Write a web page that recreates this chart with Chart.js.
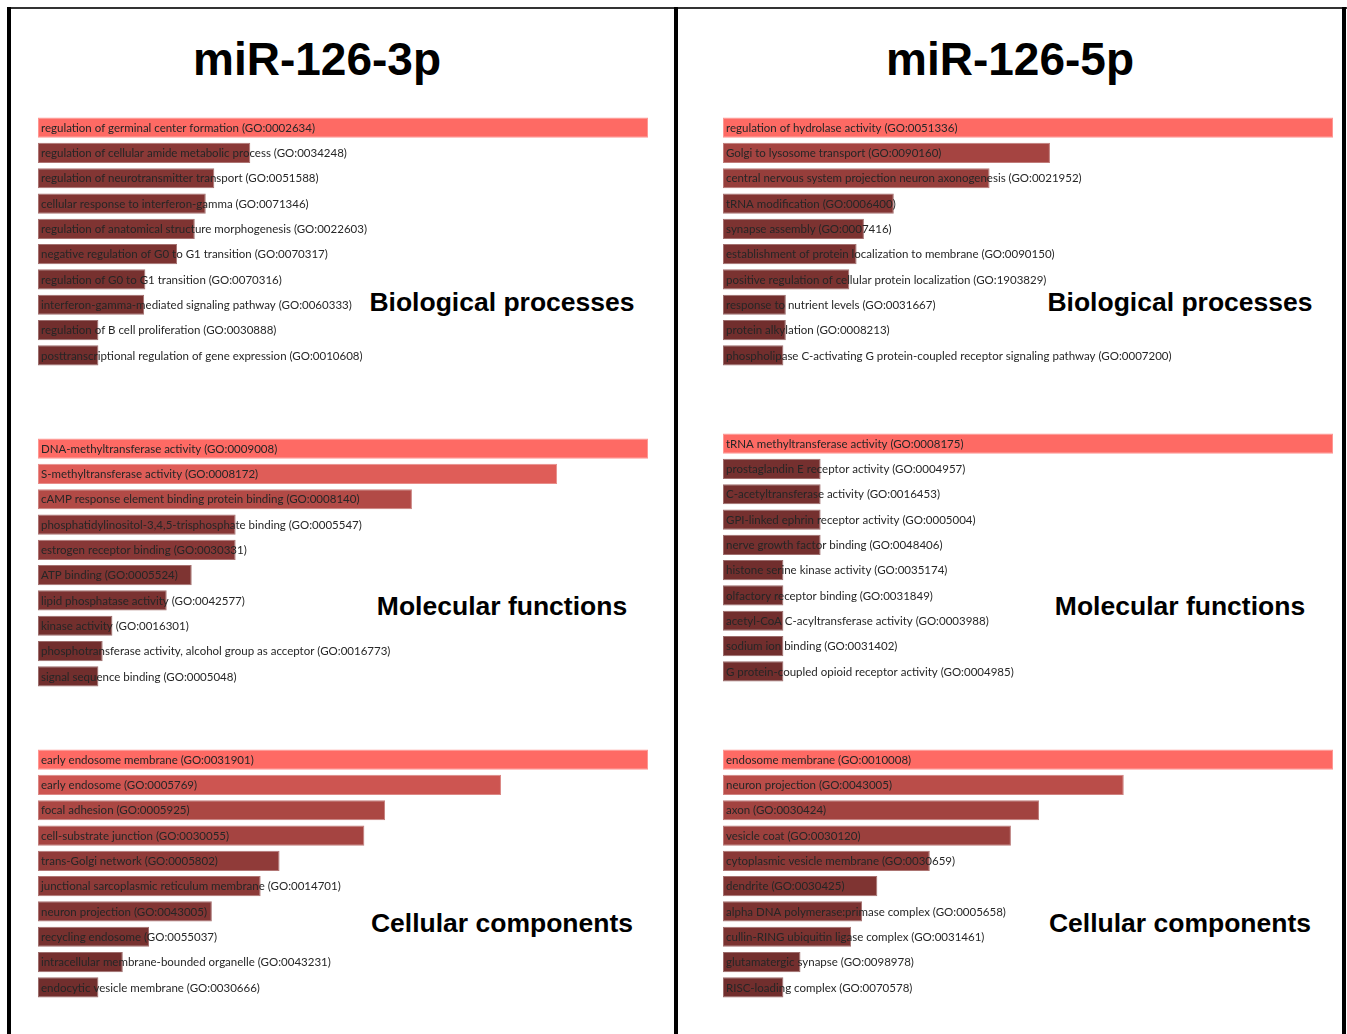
<!DOCTYPE html>
<html>
<head>
<meta charset="utf-8">
<title>miR-126 GO enrichment</title>
<script src="https://cdn.jsdelivr.net/npm/chart.js@4.4.1/dist/chart.umd.min.js"></script>
<style>
  html, body { margin: 0; padding: 0; background: #fff; }
  body { width: 1347px; height: 1034px; position: relative; overflow: hidden;
         font-family: "Liberation Sans", Arial, Helvetica, sans-serif; }
  .rule { position: absolute; background: #000; }
  .head { position: absolute; width: 500px; text-align: center; font-weight: bold;
          font-size: 46px; line-height: 46px; color: #000; white-space: nowrap; }
  .group { position: absolute; width: 340px; text-align: center; font-weight: bold;
           font-size: 26.5px; line-height: 26px; color: #000; white-space: nowrap; }
  .plot { position: absolute; width: 610px; height: 253px; }
</style>
</head>
<body>
<!-- panel frame -->
<div class="rule" style="left:7px; top:7px; width:1340px; height:2px; background:#333;"></div>
<div class="rule" style="left:7px; top:7px; width:4px; height:1027px;"></div>
<div class="rule" style="left:674px; top:7px; width:4px; height:1027px;"></div>
<div class="rule" style="left:1342px; top:7px; width:4px; height:1027px;"></div>

<div class="head" style="left:67px; top:36px;">miR-126-3p</div>
<div class="head" style="left:760px; top:36px;">miR-126-5p</div>

<div class="group" style="left:332px; top:289px;">Biological processes</div>
<div class="group" style="left:332px; top:593px;">Molecular functions</div>
<div class="group" style="left:332px; top:910px;">Cellular components</div>
<div class="group" style="left:1010px; top:289px;">Biological processes</div>
<div class="group" style="left:1010px; top:593px;">Molecular functions</div>
<div class="group" style="left:1010px; top:910px;">Cellular components</div>

<canvas id="bp3p" class="plot" width="610" height="253" style="left:38px; top:115px;"></canvas>
<canvas id="mf3p" class="plot" width="610" height="253" style="left:38px; top:436px;"></canvas>
<canvas id="cc3p" class="plot" width="610" height="253" style="left:38px; top:747px;"></canvas>
<canvas id="bp5p" class="plot" width="610" height="253" style="left:723px; top:115px;"></canvas>
<canvas id="mf5p" class="plot" width="610" height="253" style="left:723px; top:431px;"></canvas>
<canvas id="cc5p" class="plot" width="610" height="253" style="left:723px; top:747px;"></canvas>

<script>
// ---- miR-126-3p: enriched GO terms and relative enrichment scores (top term = 100)
const bp3pTerms = [
  "regulation of germinal center formation (GO:0002634)",
  "regulation of cellular amide metabolic process (GO:0034248)",
  "regulation of neurotransmitter transport (GO:0051588)",
  "cellular response to interferon-gamma (GO:0071346)",
  "regulation of anatomical structure morphogenesis (GO:0022603)",
  "negative regulation of G0 to G1 transition (GO:0070317)",
  "regulation of G0 to G1 transition (GO:0070316)",
  "interferon-gamma-mediated signaling pathway (GO:0060333)",
  "regulation of B cell proliferation (GO:0030888)",
  "posttranscriptional regulation of gene expression (GO:0010608)"
];
const bp3pScores = [100, 34.8, 28.9, 27.5, 25.7, 22.8, 17.6, 17.4, 9.9, 9.9];

const mf3pTerms = [
  "DNA-methyltransferase activity (GO:0009008)",
  "S-methyltransferase activity (GO:0008172)",
  "cAMP response element binding protein binding (GO:0008140)",
  "phosphatidylinositol-3,4,5-trisphosphate binding (GO:0005547)",
  "estrogen receptor binding (GO:0030331)",
  "ATP binding (GO:0005524)",
  "lipid phosphatase activity (GO:0042577)",
  "kinase activity (GO:0016301)",
  "phosphotransferase activity, alcohol group as acceptor (GO:0016773)",
  "signal sequence binding (GO:0005048)"
];
const mf3pScores = [100, 85.1, 61.3, 32.4, 32.4, 25.2, 21.1, 12.2, 10.6, 9.9];

const cc3pTerms = [
  "early endosome membrane (GO:0031901)",
  "early endosome (GO:0005769)",
  "focal adhesion (GO:0005925)",
  "cell-substrate junction (GO:0030055)",
  "trans-Golgi network (GO:0005802)",
  "junctional sarcoplasmic reticulum membrane (GO:0014701)",
  "neuron projection (GO:0043005)",
  "recycling endosome (GO:0055037)",
  "intracellular membrane-bounded organelle (GO:0043231)",
  "endocytic vesicle membrane (GO:0030666)"
];
const cc3pScores = [100, 75.9, 56.9, 53.5, 39.6, 36.5, 28.5, 18.2, 13.9, 9.9];

// ---- miR-126-5p
const bp5pTerms = [
  "regulation of hydrolase activity (GO:0051336)",
  "Golgi to lysosome transport (GO:0090160)",
  "central nervous system projection neuron axonogenesis (GO:0021952)",
  "tRNA modification (GO:0006400)",
  "synapse assembly (GO:0007416)",
  "establishment of protein localization to membrane (GO:0090150)",
  "positive regulation of cellular protein localization (GO:1903829)",
  "response to nutrient levels (GO:0031667)",
  "protein alkylation (GO:0008213)",
  "phospholipase C-activating G protein-coupled receptor signaling pathway (GO:0007200)"
];
const bp5pScores = [100, 53.6, 43.7, 28.0, 23.1, 21.9, 20.7, 10.3, 10.3, 9.9];

const mf5pTerms = [
  "tRNA methyltransferase activity (GO:0008175)",
  "prostaglandin E receptor activity (GO:0004957)",
  "C-acetyltransferase activity (GO:0016453)",
  "GPI-linked ephrin receptor activity (GO:0005004)",
  "nerve growth factor binding (GO:0048406)",
  "histone serine kinase activity (GO:0035174)",
  "olfactory receptor binding (GO:0031849)",
  "acetyl-CoA C-acyltransferase activity (GO:0003988)",
  "sodium ion binding (GO:0031402)",
  "G protein-coupled opioid receptor activity (GO:0004985)"
];
const mf5pScores = [100, 16.0, 16.0, 16.0, 16.0, 9.9, 9.9, 9.9, 9.9, 9.9];

const cc5pTerms = [
  "endosome membrane (GO:0010008)",
  "neuron projection (GO:0043005)",
  "axon (GO:0030424)",
  "vesicle coat (GO:0030120)",
  "cytoplasmic vesicle membrane (GO:0030659)",
  "dendrite (GO:0030425)",
  "alpha DNA polymerase:primase complex (GO:0005658)",
  "cullin-RING ubiquitin ligase complex (GO:0031461)",
  "glutamatergic synapse (GO:0098978)",
  "RISC-loading complex (GO:0070578)"
];
const cc5pScores = [100, 65.7, 51.8, 47.2, 33.9, 25.3, 22.8, 21.0, 12.7, 9.9];

// Brighter bars mark stronger enrichment: blend dark red -> salmon
const DARK = [108, 44, 43];
const BRIGHT = [254, 106, 100];
function shade(v, max, mixWhite) {
  const t = Math.pow(v / max, 1.5);
  const c = DARK.map((d, i) => d + (BRIGHT[i] - d) * t);
  const w = mixWhite || 0;
  const m = c.map(x => Math.round(x + (255 - x) * w));
  return `rgb(${m[0]},${m[1]},${m[2]})`;
}

// Term names are written over the bars, starting at the left edge
const termLabels = {
  id: 'termLabels',
  afterDatasetsDraw(chart) {
    const ctx = chart.ctx;
    const meta = chart.getDatasetMeta(0);
    const labels = chart.data.labels;
    ctx.save();
    ctx.font = '11.5px Lato, "Liberation Sans", sans-serif';
    ctx.fillStyle = '#262626';
    ctx.textBaseline = 'middle';
    ctx.textAlign = 'left';
    meta.data.forEach((bar, i) => {
      ctx.fillText(labels[i], chart.chartArea.left + 3, bar.y + 0.5);
    });
    ctx.restore();
  }
};

function drawGroup(id, terms, scores) {
  const max = Math.max(...scores);
  new Chart(document.getElementById(id), {
    type: 'bar',
    data: {
      labels: terms,
      datasets: [{
        data: scores,
        backgroundColor: scores.map(v => shade(v, max)),
        borderColor: scores.map(v => shade(v, max, 0.3)),
        borderWidth: 1,
        borderSkipped: false,
        barPercentage: 0.8,
        categoryPercentage: 1.0
      }]
    },
    options: {
      indexAxis: 'y',
      responsive: false,
      animation: false,
      devicePixelRatio: 1,
      layout: { padding: 0 },
      plugins: { legend: { display: false }, tooltip: { enabled: false } },
      scales: {
        x: { display: false, min: 0, max: max },
        y: { display: false }
      }
    },
    plugins: [termLabels]
  });
}

drawGroup('bp3p', bp3pTerms, bp3pScores);
drawGroup('mf3p', mf3pTerms, mf3pScores);
drawGroup('cc3p', cc3pTerms, cc3pScores);
drawGroup('bp5p', bp5pTerms, bp5pScores);
drawGroup('mf5p', mf5pTerms, mf5pScores);
drawGroup('cc5p', cc5pTerms, cc5pScores);
</script>
</body>
</html>
